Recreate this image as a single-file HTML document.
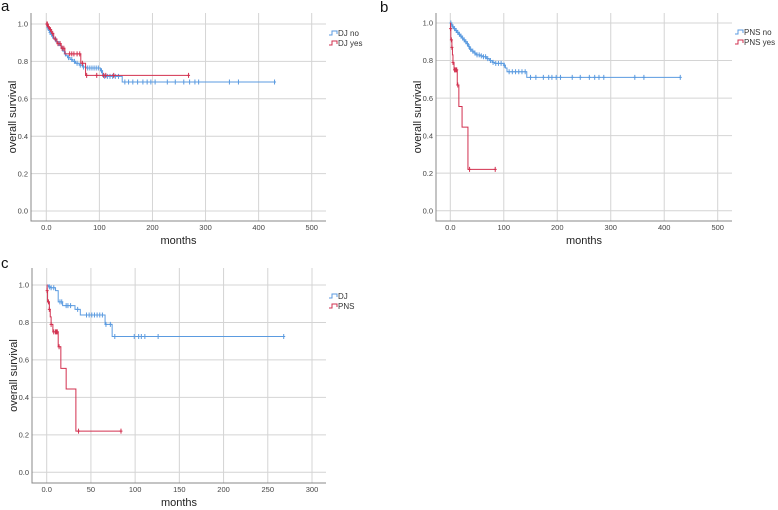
<!DOCTYPE html>
<html><head><meta charset="utf-8">
<style>
html,body{margin:0;padding:0;background:#fff;}
svg{display:block;font-family:"Liberation Sans",Arial,sans-serif;}
</style></head>
<body>
<svg id="fig" width="778" height="510" viewBox="0 0 778 510"></svg>
<script>
// ---------- data ----------
const ticksY = [0.0, 0.2, 0.4, 0.6, 0.8, 1.0];
const ticksYLabels = ["0.0","0.2","0.4","0.6","0.8","1.0"];
const ticksXab = [0, 100, 200, 300, 400, 500];
const ticksXabLabels = ["0.0","100","200","300","400","500"];
const ticksXc = [0, 50, 100, 150, 200, 250, 300];
const ticksXcLabels = ["0.0","50","100","150","200","250","300"];

// step points [time, survival]
const djNoSteps = [[0,1.0],[1,0.99],[2,0.98],[4,0.965],[6,0.955],[8,0.945],[10,0.935],[13,0.925],[16,0.915],[19,0.905],[22,0.895],[25,0.885],[28,0.87],[31,0.855],[34,0.84],[37,0.83],[40,0.82],[45,0.81],[50,0.80],[55,0.79],[62,0.78],[68,0.77],[75,0.765],[102,0.75],[106,0.72],[143,0.69],[430,0.69]];
const djNoCensor = [3,7,12,18,24,30,36,42,48,53,58,64,70,78,82,86,90,94,98,104,110,115,120,125,130,136,148,155,163,172,182,190,197,205,228,243,259,270,280,287,345,362,430];
const djYesSteps = [[0,1.0],[3,0.985],[6,0.97],[10,0.95],[14,0.92],[20,0.895],[28,0.87],[35,0.84],[65,0.79],[74,0.725],[268,0.725]];
const djYesCensor = [1,2,4,8,12,17,22,26,30,33,44,48,52,58,63,68,76,95,108,112,127,268];

const pnsNoSteps = [[0,1.0],[2,0.99],[4,0.98],[6,0.97],[9,0.96],[12,0.95],[15,0.94],[18,0.93],[21,0.92],[24,0.91],[27,0.90],[30,0.89],[33,0.875],[36,0.86],[40,0.85],[44,0.84],[48,0.83],[55,0.825],[62,0.82],[68,0.81],[73,0.80],[78,0.79],[83,0.785],[100,0.775],[103,0.76],[106,0.74],[143,0.71],[430,0.71]];
const pnsNoCensor = [1,3,5,8,11,14,17,20,23,26,29,32,35,38,42,46,50,54,58,62,66,70,75,80,85,90,95,101,110,116,122,128,134,140,150,160,174,184,190,198,206,228,243,260,270,278,287,345,362,430];
const pnsYesSteps = [[0,1.0],[0.5,0.97],[1,0.91],[3,0.87],[4,0.83],[5,0.79],[7,0.75],[13,0.67],[16,0.555],[22,0.445],[33,0.22],[84,0.22]];
const pnsYesCensor = [0.5,2,3,5,8,10,11,12,14,36,84];

const djCSteps = [[0,1.0],[2,0.99],[5,0.985],[10,0.97],[13,0.91],[18,0.89],[32,0.87],[38,0.84],[66,0.79],[74,0.725],[268,0.725]];
const djCCensor = [3,5,8,15,17,22,24,27,35,45,48,51,54,57,60,63,67,72,77,99,104,107,111,126,268];
const pnsCSteps = pnsYesSteps;
const pnsCCensor = pnsYesCensor;

// ---------- rendering ----------
const NS = "http://www.w3.org/2000/svg";
const svg = document.getElementById("fig");
function mk(tag, attrs, parent){const e=document.createElementNS(NS,tag);for(const k in attrs)e.setAttribute(k,attrs[k]);(parent||svg).appendChild(e);return e;}

const BLUE="#5b9be0", RED="#d2304f";

function panel(cfg){
  const g = mk("g",{});
  
  
  const sx = v => cfg.x0 + (v - cfg.xmin)/(cfg.xmax - cfg.xmin)*(cfg.x1 - cfg.x0);
  const sy = v => cfg.y0 + v*(cfg.y1 - cfg.y0);
  cfg.xt.forEach((t,i)=>{
    const l=mk("line",{x1:sx(t),x2:sx(t),y1:cfg.top,y2:cfg.bottom,stroke:"#d4d4d4","stroke-width":1},g);
    
    
    const tx=mk("text",{x:sx(t),y:cfg.bottom+9,"font-size":7.5,"text-anchor":"middle",fill:"#444"},g);
    tx.textContent=cfg.xtl[i];
    
    
  });
  ticksY.forEach((t,i)=>{
    const l=mk("line",{x1:cfg.left,x2:cfg.right,y1:sy(t),y2:sy(t),stroke:"#d4d4d4","stroke-width":1},g);
    
    
    const tx=mk("text",{x:cfg.left-3,y:sy(t)+2.7,"font-size":7.5,"text-anchor":"end",fill:"#444"},g);
    tx.textContent=ticksYLabels[i];
    
    
  });
  const ax=mk("path",{d:`M${cfg.left},${cfg.top}V${cfg.bottom}H${cfg.right}`,fill:"none",stroke:"#888","stroke-width":1},g);
  
  
  cfg.series.forEach(s=>{
    let d="", prev=null;
    s.steps.forEach(([t,v])=>{
      if(prev===null) d+=`M${sx(t)},${sy(v)}`;
      else d+=`H${sx(t)}V${sy(v)}`;
      prev=v;
    });
    const p=mk("path",{d:d,fill:"none",stroke:s.color,"stroke-width":1},g);
    
    
    const survAt = t => {let v=s.steps[0][1];for(const [tt,vv] of s.steps){if(tt<=t)v=vv;else break;}return v;};
    let cd="";
    s.censor.forEach(t=>{const x=sx(t),y=sy(survAt(t));cd+=`M${x},${y-2.5}V${y+2.5}M${x-1.5},${y}H${x+1.5}`;});
    const c=mk("path",{d:cd,fill:"none",stroke:s.color,"stroke-width":1},g);
    
    
  });
  const xt=mk("text",{x:(cfg.left+cfg.right)/2,y:cfg.bottom+23,"font-size":11,"text-anchor":"middle",fill:"#222"},g);
  xt.textContent="months";
  
  
  const yc=(cfg.top+cfg.bottom)/2, yx=cfg.left-15;
  const yt=mk("text",{x:yx,y:yc,"font-size":11,"text-anchor":"middle",fill:"#222",transform:`rotate(-90 ${yx} ${yc})`},g);
  yt.textContent="overall survival";
  
  
  cfg.series.forEach((s,i)=>{
    const ly=cfg.legY+i*10;
    const lx=cfg.right+3;
    const lp=mk("path",{d:`M${lx},${ly+2}H${lx+3}V${ly-2}H${lx+8}V${ly+1}`,fill:"none",stroke:s.color,"stroke-width":1},g);
    
    
    const lt=mk("text",{x:lx+9,y:ly+3,"font-size":8,fill:"#333"},g);
    lt.textContent=s.label;
    
    
  });
  const L=mk("text",{x:cfg.letterX,y:cfg.letterY,"font-size":15,fill:"#111"},g);
  L.textContent=cfg.letter;
  
  
}

panel({name:"panel-a",letter:"a",letterX:1,letterY:11,left:31,right:326,top:13,bottom:221,
  x0:46.3,x1:311.7,xmin:0,xmax:500,y0:211,y1:24,xt:ticksXab,xtl:ticksXabLabels,legY:33,
  series:[{name:"dj-no",label:"DJ no",color:BLUE,steps:djNoSteps,censor:djNoCensor},
          {name:"dj-yes",label:"DJ yes",color:RED,steps:djYesSteps,censor:djYesCensor}]});
panel({name:"panel-b",letter:"b",letterX:380,letterY:12,left:436,right:732,top:13,bottom:221,
  x0:450.3,x1:717.7,xmin:0,xmax:500,y0:210.7,y1:23,xt:ticksXab,xtl:ticksXabLabels,legY:32,
  series:[{name:"pns-no",label:"PNS no",color:BLUE,steps:pnsNoSteps,censor:pnsNoCensor},
          {name:"pns-yes",label:"PNS yes",color:RED,steps:pnsYesSteps,censor:pnsYesCensor}]});
panel({name:"panel-c",letter:"c",letterX:1,letterY:268,left:32,right:326,top:268,bottom:483,
  x0:46.7,x1:312,xmin:0,xmax:300,y0:472.3,y1:285,xt:ticksXc,xtl:ticksXcLabels,legY:296,
  series:[{name:"dj",label:"DJ",color:BLUE,steps:djCSteps,censor:djCCensor},
          {name:"pns",label:"PNS",color:RED,steps:pnsCSteps,censor:pnsCCensor}]});
</script>
</body></html>
